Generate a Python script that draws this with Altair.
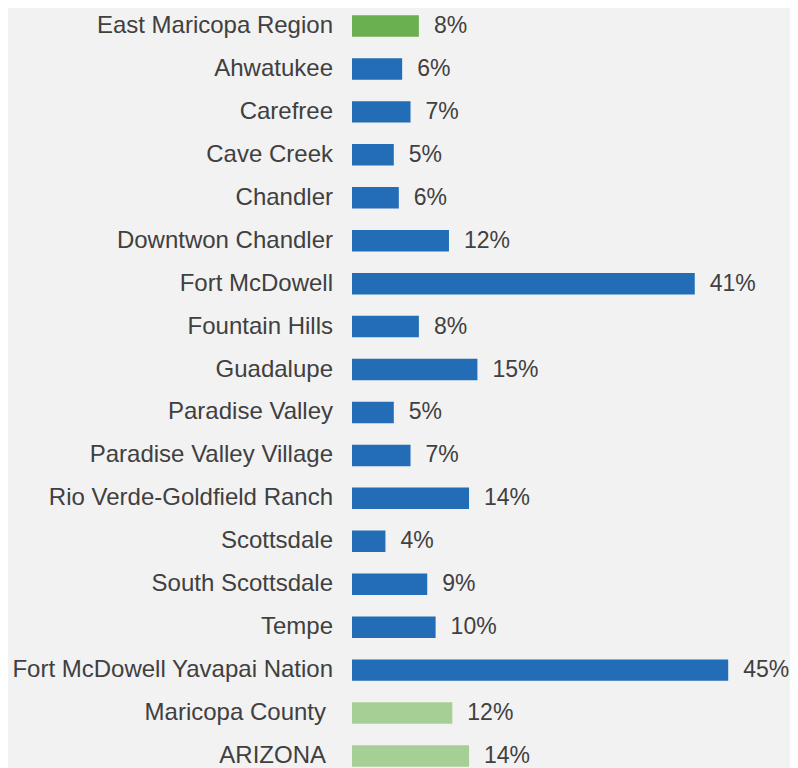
import altair as alt
import pandas as pd

categories = [
    "East Maricopa Region", "Ahwatukee", "Carefree", "Cave Creek", "Chandler",
    "Downtwon Chandler", "Fort McDowell", "Fountain Hills", "Guadalupe",
    "Paradise Valley", "Paradise Valley Village", "Rio Verde-Goldfield Ranch",
    "Scottsdale", "South Scottsdale", "Tempe", "Fort McDowell Yavapai Nation",
    "Maricopa County", "ARIZONA",
]
values = [8, 6, 7, 5, 5.6, 11.6, 41, 8, 15, 5, 7, 14, 4, 9, 10, 45, 12, 14]
groups = ["region"] + ["community"] * 15 + ["benchmark"] * 2

df = pd.DataFrame({"category": categories, "value": values, "group": groups})

BG = "#f2f2f2"
TXT = "#404040"
W = 430
H = 766
PX_PER_PCT = 8.36

y = alt.Y("category:N", sort=categories, axis=None,
          scale=alt.Scale(paddingInner=0.5, paddingOuter=0.169))
x = alt.X("value:Q", axis=None,
          scale=alt.Scale(domain=[0, W / PX_PER_PCT], nice=False, zero=True))

bars = alt.Chart(df).mark_bar().encode(
    x=x,
    y=y,
    color=alt.Color("group:N", legend=None,
                    scale=alt.Scale(domain=["region", "community", "benchmark"],
                                    range=["#6aaf50", "#226db5", "#a6cf95"])),
)

vals = alt.Chart(df).transform_calculate(
    label="format(datum.value, '.0f') + '%'"
).mark_text(align="left", baseline="middle", dx=15, fontSize=23,
            font="Liberation Sans", color=TXT).encode(
    x=x, y=y, text="label:N"
)

names_main = alt.Chart(df).transform_filter(
    "datum.group != 'benchmark'"
).mark_text(align="right", baseline="middle", fontSize=24,
            font="Liberation Sans", color=TXT).encode(
    x=alt.value(-19), y=y, text="category:N"
)

names_bench = alt.Chart(df).transform_filter(
    "datum.group == 'benchmark'"
).mark_text(align="right", baseline="middle", fontSize=24,
            font="Liberation Sans", color=TXT).encode(
    x=alt.value(-26), y=y, text="category:N"
)

chart = alt.layer(bars, vals, names_main, names_bench).properties(
    width=W, height=H,
    autosize=alt.AutoSizeParams(type="none"),
    padding={"left": 344, "top": 0, "right": 8, "bottom": 0},
    background=BG,
).configure_view(stroke=None)

chart.save("out.html", embed_options={"renderer": "svg", "actions": False})
